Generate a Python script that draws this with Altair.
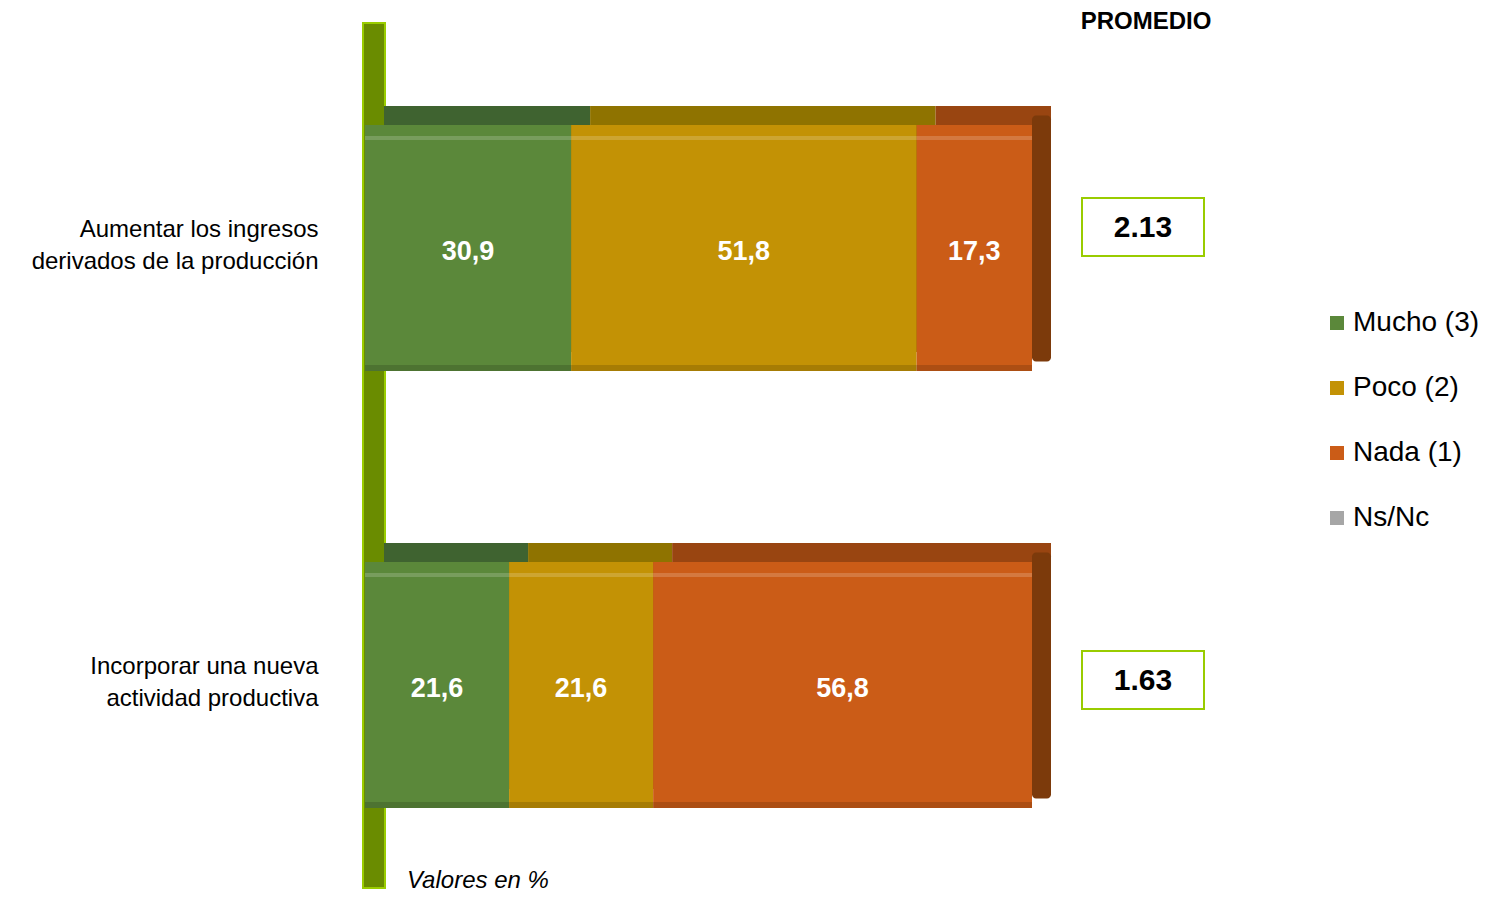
import altair as alt
import pandas as pd

# ---------------- data ----------------
categories = ["Aumentar los ingresos|derivados  de la producción",
              "Incorporar  una  nueva|actividad  productiva"]
series = ["Mucho (3)", "Poco (2)", "Nada (1)", "Ns/Nc"]
mucho = [30.9, 21.6]
poco = [51.8, 21.6]
nada = [17.3, 56.8]
nsnc = [0.0, 0.0]
promedio = ["2.13", "1.63"]

# ---------------- style ----------------
front_colors = ["#5b883a", "#c39205", "#cb5c17", "#a6a6a6"]
top_colors = ["#3f6330", "#8f7300", "#994511", "#7a7a7a"]
right_face_color = "#7c3a0b"
wall_fill = "#6a8c00"
wall_edge = "#9acd00"
box_edge = "#99cc00"
FONT = "Liberation Sans"
W, H, D = 667, 875, 19
box_dy = [-21, -5]

rows = []
for i, cat in enumerate(categories):
    start = 0.0
    for s, vals, tc in zip(series, [mucho, poco, nada, nsnc], top_colors):
        v = vals[i]
        if v <= 0:
            continue
        rows.append(dict(cat=cat, serie=s, value=v, start=start, end=start + v,
                         mid=start + v / 2, label=f"{v:.1f}".replace(".", ","),
                         top=tc))
        start += v
df = pd.DataFrame(rows)
last = df.loc[df.groupby("cat")["end"].idxmax()]
prom = pd.DataFrame({"cat": categories, "prom": promedio})

xs = alt.Scale(domain=[0, 100], nice=False, zero=True)
ys = alt.Scale(domain=categories, paddingInner=0.43707, paddingOuter=0.21968, align=0.5833)
yenc = alt.Y("cat:N", sort=categories, scale=ys,
             axis=alt.Axis(title=None, domain=False, ticks=False, grid=False,
                           labelExpr="split(datum.label, '|')", labelFontSize=24,
                           labelLineHeight=32, labelPadding=47, labelColor="black",
                           labelLimit=500, labelFont=FONT, labelOffset=-18))

wall = alt.Chart(pd.DataFrame({"a": [0]})).mark_rect(
    fill=wall_fill, stroke=wall_edge, strokeWidth=2, xOffset=-2, x2Offset=20
).encode(x=alt.X(datum=0, type="quantitative", scale=xs, axis=None),
         x2=alt.X2(datum=0), y=alt.value(10), y2=alt.value("height"))

back = alt.Chart(df).mark_bar(xOffset=D, x2Offset=D, yOffset=-D).encode(
    x=alt.X("start:Q", scale=xs, axis=None), x2="end:Q", y=yenc,
    color=alt.Color("top:N", scale=None))

right = alt.Chart(last).mark_bar(color=right_face_color, x2Offset=D, yOffset=-D / 2,
                                 cornerRadius=4).encode(
    x=alt.X("end:Q", scale=xs, axis=None), x2="end:Q", y=yenc)

front = alt.Chart(df).mark_bar().encode(
    x=alt.X("start:Q", scale=xs, axis=None), x2="end:Q", y=yenc,
    color=alt.Color("serie:N", scale=alt.Scale(domain=series, range=front_colors),
                    legend=alt.Legend(title=None, orient="none", legendX=958, legendY=296,
                                      padding=0,
                                      symbolType="square", symbolSize=196,
                                      symbolStrokeWidth=0, labelFontSize=28,
                                      labelFont=FONT, labelColor="black",
                                      labelOffset=2, rowPadding=37)))

hilite = alt.Chart(df).mark_bar(height=4, yOffset=-110, color="white", opacity=0.18).encode(
    x=alt.X("start:Q", scale=xs, axis=None), x2="end:Q", y=yenc)

shade = alt.Chart(df).mark_bar(height=6, yOffset=120, color="black", opacity=0.15).encode(
    x=alt.X("start:Q", scale=xs, axis=None), x2="end:Q", y=yenc)

labels = alt.Chart(df).mark_text(color="white", fontWeight="bold", fontSize=27,
                                 font=FONT, dy=4).encode(
    x=alt.X("mid:Q", scale=xs, axis=None), y=yenc, text="label:N")

boxes = []
for i, cat in enumerate(categories):
    sub = prom[prom["cat"] == cat]
    b = alt.Chart(sub).mark_bar(height=58, fill="white", stroke=box_edge, strokeWidth=2,
                                xOffset=50, x2Offset=172, yOffset=box_dy[i]).encode(
        x=alt.X(datum=100, type="quantitative", scale=xs, axis=None),
        x2=alt.X2(datum=100), y=yenc)
    t = alt.Chart(sub).mark_text(fontSize=30, fontWeight="bold", font=FONT, color="black",
                                 xOffset=111, yOffset=box_dy[i] + 1).encode(
        x=alt.X(datum=100, type="quantitative", scale=xs, axis=None),
        y=yenc, text="prom:N")
    boxes += [b, t]

title = alt.Chart(pd.DataFrame({"t": ["PROMEDIO"]})).mark_text(
    fontSize=24, fontWeight="bold", font=FONT, color="black", xOffset=114).encode(
    x=alt.X(datum=100, type="quantitative", scale=xs, axis=None),
    y=alt.value(9), text="t:N")

note = alt.Chart(pd.DataFrame({"t": ["Valores en %"]})).mark_text(
    fontSize=24, fontStyle="italic", font=FONT, color="black", align="left").encode(
    x=alt.value(42), y=alt.value(868), text="t:N")

chart = alt.layer(wall, back, right, front, hilite, shade, labels, *boxes, title, note).properties(
    width=W, height=H,
    padding={"left": 357, "top": 5, "right": 455, "bottom": 5},
    autosize=alt.AutoSizeParams(type="none"),
).configure(font=FONT, background="white").configure_view(stroke=None)

chart.save("out.html", embed_options={"renderer": "svg", "actions": False})
